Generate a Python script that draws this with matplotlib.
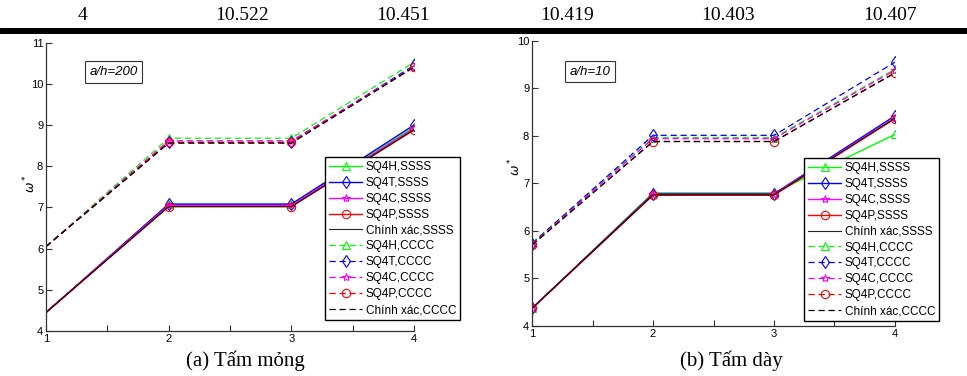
import numpy as np
import matplotlib.pyplot as plt
from matplotlib.lines import Line2D
from matplotlib.ticker import MultipleLocator

# ---- data ----
x = [1, 2, 3, 4]
methods = ['SQ4H', 'SQ4T', 'SQ4C', 'SQ4P', 'Chính xác']

# (a) thin plate, a/h = 200
thin_ssss = {
    'SQ4H': [4.45, 7.08, 7.08, 8.95],
    'SQ4T': [4.45, 7.08, 7.08, 9.00],
    'SQ4C': [4.45, 7.05, 7.05, 8.92],
    'SQ4P': [4.45, 7.02, 7.02, 8.88],
    'Chính xác': [4.45, 7.02, 7.02, 8.89],
}
thin_cccc = {
    'SQ4H': [6.05, 8.68, 8.68, 10.522],
    'SQ4T': [6.05, 8.58, 8.58, 10.451],
    'SQ4C': [6.05, 8.62, 8.62, 10.419],
    'SQ4P': [6.05, 8.58, 8.58, 10.403],
    'Chính xác': [6.05, 8.56, 8.56, 10.407],
}

# (b) thick plate, a/h = 10
thick_ssss = {
    'SQ4H': [4.37, 6.80, 6.80, 8.03],
    'SQ4T': [4.37, 6.78, 6.78, 8.42],
    'SQ4C': [4.37, 6.77, 6.77, 8.38],
    'SQ4P': [4.37, 6.75, 6.75, 8.36],
    'Chính xác': [4.37, 6.76, 6.76, 8.37],
}
thick_cccc = {
    'SQ4H': [5.75, 7.96, 7.96, 9.40],
    'SQ4T': [5.73, 8.01, 8.01, 9.55],
    'SQ4C': [5.72, 7.94, 7.94, 9.38],
    'SQ4P': [5.71, 7.88, 7.88, 9.33],
    'Chính xác': [5.70, 7.88, 7.88, 9.32],
}

table_values = ['4', '10.522', '10.451', '10.419', '10.403', '10.407']
captions = ['(a) Tấm mỏng', '(b) Tấm dày']
ratios = ['a/h=200', 'a/h=10']

# ---- styles ----
colors = {'SQ4H': '#00ff00', 'SQ4T': '#0000ff', 'SQ4C': '#ff00ff',
          'SQ4P': '#ff0000', 'Chính xác': 'black'}
markers = {'SQ4H': '^', 'SQ4T': 'd', 'SQ4C': '*', 'SQ4P': 'o', 'Chính xác': None}

plt.rcParams['font.family'] = ['Liberation Sans', 'DejaVu Sans']

W, H = 967, 376
fig = plt.figure(figsize=(W / 100, H / 100), dpi=100, facecolor='white')


def px_box(x0, x1, ytop, ybot):
    return [x0 / W, 1 - ybot / H, (x1 - x0) / W, (ybot - ytop) / H]


def draw_panel(ax, ssss, cccc, ylim, label, label_pos, leg_anchor, ylab_pos,
               mark_first):
    every = [0, 1, 2, 3] if mark_first else [1, 2, 3]
    for m in methods:
        ax.plot(x, ssss[m], '-', color=colors[m], lw=1.0 if m != 'Chính xác' else 0.8,
                marker=markers[m], mfc='none', ms=6, mew=0.8, markevery=every,
                alpha=0.85 if m == 'Chính xác' else 1.0,
                label=m + ',SSSS')
    for m in methods:
        ax.plot(x, cccc[m], '--', color=colors[m], lw=0.9, dashes=(5, 3),
                marker=markers[m], mfc='none', ms=6, mew=0.8, markevery=every,
                label=m + ',CCCC')
    ax.set_xlim(1, 4)
    ax.set_ylim(*ylim)
    ax.xaxis.set_major_locator(MultipleLocator(1))
    ax.xaxis.set_minor_locator(MultipleLocator(0.5))
    ax.yaxis.set_major_locator(MultipleLocator(1))
    ax.tick_params(which='both', direction='in', length=4, width=0.8,
                   labelsize=8, color='#333333', pad=2)
    for s in ['top', 'right']:
        ax.spines[s].set_visible(False)
    for s in ['left', 'bottom']:
        ax.spines[s].set_color('#333333')
        ax.spines[s].set_linewidth(0.9)
    ax.set_ylabel(r'$\omega^*$', fontsize=9)
    ax.yaxis.set_label_coords(*ylab_pos)
    ax.text(*label_pos, label, fontsize=9.5, style='italic', ha='center', va='center',
            bbox=dict(boxstyle='square,pad=0.35', fc='white', ec='#333333', lw=0.8))
    leg = ax.legend(loc='upper left', bbox_to_anchor=leg_anchor, fontsize=8.5,
                    handlelength=2.8, labelspacing=0.33, borderpad=0.35,
                    handletextpad=0.3, borderaxespad=0, fancybox=False, framealpha=1,
                    edgecolor='black')
    leg.get_frame().set_linewidth(1.0)


ax1 = fig.add_axes(px_box(46, 414, 42.7, 331))
draw_panel(ax1, thin_ssss, thin_cccc, (4, 11), ratios[0], (1.55, 10.29),
           (0.758, 0.604), (-0.02, 0.51), mark_first=False)

ax2 = fig.add_axes(px_box(532, 895, 40.7, 326))
draw_panel(ax2, thick_ssss, thick_cccc, (4, 10), ratios[1], (1.48, 9.35),
           (0.749, 0.589), (-0.025, 0.56), mark_first=True)

# table row and rule above the charts
serif = ['Liberation Serif', 'DejaVu Serif']
for xp, t in zip([82, 242, 403, 567, 728, 890], table_values):
    fig.text(xp / W, 1 - 15 / H, t, ha='center', va='center', fontsize=14,
             family=serif)
fig.add_artist(Line2D([3 / W, 1], [1 - 31 / H] * 2, color='black', lw=4.3))

# captions
for xp, t in zip([245, 731], captions):
    fig.text(xp / W, 1 - 361 / H, t, ha='center', va='center', fontsize=15,
             family=serif)

fig.savefig('out.png', dpi=100)
